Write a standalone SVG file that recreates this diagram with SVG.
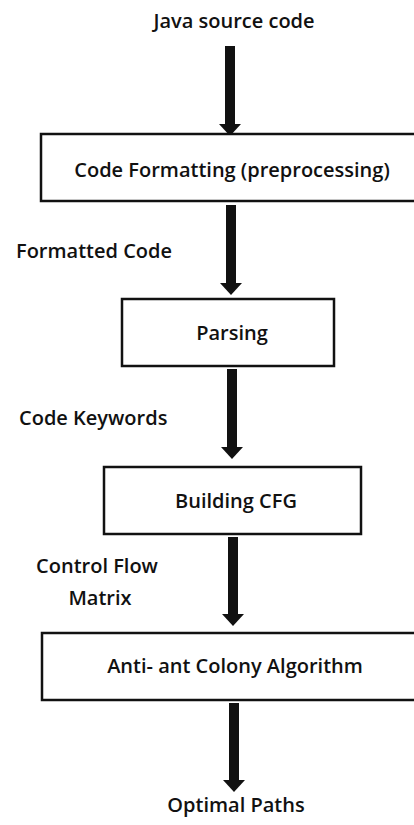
<svg xmlns="http://www.w3.org/2000/svg" width="414" height="825" viewBox="0 0 414 825">
  <style>
    text { font-family: "Open Sans", "Liberation Sans", sans-serif; font-weight: 600; font-size: 20px; fill: #111; }
    .c { text-anchor: middle; }
    .box { fill: #fff; stroke: #111; stroke-width: 2.5; }
    .arrow { stroke: #111; stroke-width: 10; fill: none; marker-end: url(#head); }
  </style>
  <defs>
    <marker id="head" viewBox="0 0 12 22" refX="0" refY="11" markerWidth="12" markerHeight="22" markerUnits="userSpaceOnUse" orient="auto">
      <path d="M0,0 L12,11 L0,22 z" fill="#111"/>
    </marker>
  </defs>
  <rect width="414" height="825" fill="#fff"/>

  <g id="connectors">
    <line class="arrow" x1="230" y1="46" x2="230" y2="124"/>
    <line class="arrow" x1="231" y1="205" x2="231" y2="283"/>
    <line class="arrow" x1="232" y1="369" x2="232" y2="447"/>
    <line class="arrow" x1="233" y1="537" x2="233" y2="614"/>
    <line class="arrow" x1="234" y1="703" x2="234" y2="780"/>
  </g>

  <g id="input">
    <text class="c" x="234" y="28">Java source code</text>
  </g>
  <g id="formatting">
    <rect class="box" x="41" y="134" width="385" height="67"/>
    <text class="c" x="232" y="177">Code Formatting (preprocessing)</text>
  </g>
  <g id="label-formatted">
    <text x="16" y="258">Formatted Code</text>
  </g>
  <g id="parsing">
    <rect class="box" x="122" y="299" width="212" height="67"/>
    <text class="c" x="232" y="340">Parsing</text>
  </g>
  <g id="label-keywords">
    <text x="19" y="425">Code Keywords</text>
  </g>
  <g id="building-cfg">
    <rect class="box" x="104" y="467" width="257" height="67"/>
    <text class="c" x="236" y="508">Building CFG</text>
  </g>
  <g id="label-matrix">
    <text class="c" x="97" y="573">Control Flow</text>
    <text class="c" x="100" y="605">Matrix</text>
  </g>
  <g id="anti-ant">
    <rect class="box" x="42" y="633" width="385" height="67"/>
    <text class="c" x="235" y="673">Anti- ant Colony Algorithm</text>
  </g>
  <g id="output">
    <text class="c" x="236" y="812">Optimal Paths</text>
  </g>
</svg>
